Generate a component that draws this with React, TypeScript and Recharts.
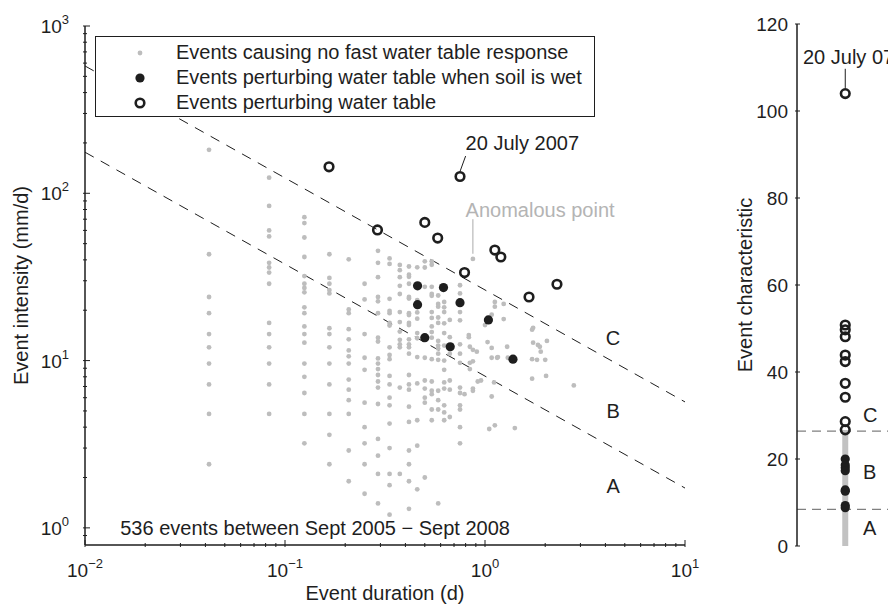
import React from 'react'
import {
  ScatterChart,
  Scatter,
  XAxis,
  YAxis,
  ReferenceLine,
  ReferenceDot,
  Legend,
  Label,
} from 'recharts'

const INK = '#1e1e1e'
const GRAY = '#bdbdbd'
const FONT = "'Liberation Sans', Arial, Helvetica, sans-serif"

// hourly duration columns (d) and the intensities read in each column (mm/d)
const colDuration = [
  0.0417, 0.0833, 0.125, 0.1667, 0.2083, 0.25, 0.2917, 0.3333, 0.375,
  0.4167, 0.4583, 0.5, 0.5417, 0.5833, 0.625, 0.6667, 0.75,
]
const colIntensity = [
  [2.4, 4.8, 7.2, 9.6, 12, 14.4, 19.2, 24, 43.2, 182],
  [4.8, 7.2, 9.6, 12, 14.4, 16.8, 28.8, 33.6, 36, 38.4, 55.2, 60, 84, 124],
  [3.2, 4.8, 6.4, 8, 9.6, 12.8, 14.4, 16, 19.2, 20.8, 25.6, 27.2, 28.8, 32, 41.6, 54.4, 66.4, 72],
  [2.4, 3.6, 4.8, 7.2, 9.6, 12, 14.4, 15.6, 25.2, 26.4, 28.8, 31.2, 43.2],
  [1.9, 2.9, 4.8, 5.8, 6.7, 7.7, 9.6, 10.6, 11.5, 13.4, 15.4, 19.2, 20.2, 40.3],
  [1.6, 2.4, 3.2, 4, 5.6, 8.8, 10.4, 14.4, 23.2, 28.8],
  [1.4, 2.1, 2.7, 3.4, 5.5, 6.9, 7.5, 8.2, 8.9, 9.6, 10.3, 13, 13.7, 19.2, 22.6, 24, 31.5, 38.4, 45.3],
  [1.2, 1.8, 2.1, 3, 4.2, 5.4, 6, 7.2, 8.1, 10.2, 10.8, 12, 16.2, 16.8, 19.2, 19.8, 23.4, 37.8, 40.8],
  [2.1, 6.9, 12, 12.5, 13.3, 14.9, 17, 19.5, 25, 28, 31.5, 34.7, 37.3],
  [1.3, 1.9, 2.4, 2.9, 4.3, 5.3, 6.7, 7.2, 8.2, 11, 12, 12.5, 13.4, 16.3, 16.8, 18.7, 19.2, 23.5, 24, 28.8, 31.7, 32.6, 36.5],
  [1.7, 3.1, 4.4, 7.3, 10.5, 13.6, 14.6, 17.8, 19.4, 20.9, 23, 36.1],
  [2, 5.6, 6, 6.8, 7.6, 10.4, 27.6, 36, 39.2],
  [4.4, 5.1, 6.3, 6.6, 7.5, 10.2, 13.7, 14.8, 16, 18, 19.5, 24.4, 25, 27.6, 37.4, 39.2],
  [1.4, 5.1, 5.8, 6.6, 10.1, 11, 11.8, 12.3, 13.1, 16.8, 18.1, 21, 21.8, 24.5],
  [4.4, 4.9, 5.4, 6.8, 7.4, 8.8, 10, 12.3, 14.6, 16.7, 19.5, 20.8, 22.4],
  [4.6, 6.7, 7.6, 11, 13.8, 17.5],
  [3.2, 4, 5.1, 5.4, 6.4, 6.9, 9.7, 11, 12.5, 17.4, 19.5, 25.2, 28.2],
]
// longer events, scattered
const looseDuration = [
  0.83, 0.83, 0.84, 0.84, 0.84, 0.87, 0.91, 0.87, 0.87, 0.87, 0.79, 0.92, 0.955, 0.87,
  1.0, 1.08, 1.03, 1.08, 1.12, 1.12, 1.15, 1.11, 1.08, 1.12, 1.05, 1.08, 1.16,
  1.24, 1.24, 1.29, 1.3, 1.41, 1.72, 1.74, 1.74, 1.84, 1.9, 1.88, 1.72, 1.82,
  2.0, 1.72, 2.02, 2.04, 2.78,
]
const looseIntensity = [
  14.2, 13.8, 12.1, 9.7, 8.9, 11.6, 11.3, 6.8, 9.9, 6.6, 6.3, 7.5, 7.6, 40.5,
  16.3, 18.8, 12.9, 10.4, 22.4, 21, 10.4, 7.4, 6.1, 4.1, 3.9, 11.9, 10.5,
  21.8, 17.7, 12.1, 10.4, 3.95, 15.3, 15.7, 12.8, 12.4, 11.3, 12.1, 10.2, 10.1,
  10.1, 7.8, 8.1, 13.1, 7.1,
]

// events perturbing water table when soil is wet
const wetDuration = [0.46, 0.46, 0.5, 0.62, 0.67, 0.75, 1.04, 1.38]
const wetIntensity = [28, 21.6, 13.7, 27.3, 12.1, 22.2, 17.5, 10.2]

// events perturbing water table
const respDuration = [0.166, 0.29, 0.5, 0.58, 0.75, 0.79, 1.12, 1.2, 1.66, 2.29]
const respIntensity = [144, 60.4, 67, 54, 126, 33.6, 45.8, 41.6, 24, 28.6]

// zone boundary lines (end points)
const lineDuration = [0.01, 10]
const lineC = [577, 5.66]
const lineB = [176, 1.73]

// right panel: event characteristic
const charResp = [104, 50.8, 49.7, 48.1, 43.9, 42.4, 37.4, 34.2, 28.6, 26.7]
const charWet = [20, 18.6, 18, 17.3, 12.9, 12.6, 9.3, 8.8]
const charNoneRange = [0.2, 26]
const charThresholds = [26.4, 8.4]

const legendLabels = [
  'Events causing no fast water table response',
  'Events perturbing water table when soil is wet',
  'Events perturbing water table',
]

const xMajor = [0.01, 0.1, 1, 10]
const yMajor = [1, 10, 100, 1000]
const mult = [2, 3, 4, 5, 6, 7, 8, 9]
const xTicks = [...xMajor, ...[0.01, 0.1, 1].flatMap((d) => mult.map((m) => m * d))]
const yTicks = [0.9, ...yMajor, ...[1, 10, 100].flatMap((d) => mult.map((m) => m * d))]
const charTicks = [0, 20, 40, 60, 80, 100, 120]

const isMajor = (v: number) => Math.abs(Math.log10(v) - Math.round(Math.log10(v))) < 1e-6
const expText = (v: number) => {
  const e = Math.round(Math.log10(v))
  return e < 0 ? '\u2212' + -e : String(e)
}

const BottomTick = (p: any) => {
  const v = p.payload.value
  const major = isMajor(v)
  return (
    <g>
      <line x1={p.x} x2={p.x} y1={p.y} y2={p.y - (major ? 7 : 4)} stroke={INK} strokeWidth={1} />
      {major && (
        <text x={p.x} y={p.y + 30} textAnchor="middle" fontSize={19} fill={INK} fontFamily={FONT}>
          10<tspan dy={-9} fontSize={13}>{expText(v)}</tspan>
        </text>
      )}
    </g>
  )
}

const TopTick = (p: any) => {
  const major = isMajor(p.payload.value)
  return <line x1={p.x} x2={p.x} y1={p.y} y2={p.y + (major ? 7 : 4)} stroke={INK} strokeWidth={1} />
}

const LeftTick = (p: any) => {
  const v = p.payload.value
  const major = isMajor(v)
  return (
    <g>
      <line x1={p.x} x2={p.x + (major ? 7 : 4)} y1={p.y} y2={p.y} stroke={INK} strokeWidth={1} />
      {major && (
        <text x={p.x - 14} y={p.y + 7} textAnchor="end" fontSize={19} fill={INK} fontFamily={FONT}>
          10<tspan dy={-9} fontSize={13}>{expText(v)}</tspan>
        </text>
      )}
    </g>
  )
}

const RightTick = (p: any) => {
  const major = isMajor(p.payload.value)
  return <line x1={p.x} x2={p.x - (major ? 7 : 4)} y1={p.y} y2={p.y} stroke={INK} strokeWidth={1} />
}

const LinearLeftTick = (p: any) => (
  <g>
    <line x1={p.x} x2={p.x + 5} y1={p.y} y2={p.y} stroke={INK} strokeWidth={1} />
    <text x={p.x - 7} y={p.y + 7} textAnchor="end" fontSize={19} fill={INK} fontFamily={FONT}>
      {p.payload.value}
    </text>
  </g>
)

const GrayDot = (p: any) => <circle cx={p.cx} cy={p.cy} r={2.4} fill={GRAY} />
const WetDot = (p: any) => <circle cx={p.cx} cy={p.cy} r={4.6} fill={INK} />
const RespDot = (p: any) => (
  <circle cx={p.cx} cy={p.cy} r={4.3} fill="none" stroke={INK} strokeWidth={2.6} />
)
const NoMark = () => <g />

const textMark = (text: string, anchor: string, color = INK, size = 20) => (p: any) => (
  <text x={p.cx} y={p.cy} textAnchor={anchor} fontSize={size} fill={color} fontFamily={FONT}>
    {text}
  </text>
)

const LegendBox = () => (
  <div
    style={{
      position: 'relative',
      width: 500,
      height: 81,
      boxSizing: 'border-box',
      border: `1px solid ${INK}`,
      background: '#fff',
      fontFamily: FONT,
    }}
  >
    {legendLabels.map((label, i) => (
      <div
        key={label}
        style={{
          position: 'absolute',
          left: 0,
          top: 3 + i * 25,
          height: 25,
          lineHeight: '25px',
          fontSize: 20,
          color: INK,
          whiteSpace: 'nowrap',
        }}
      >
        <svg width={20} height={20} style={{ position: 'absolute', left: 34, top: 2.5 }}>
          {i === 0 && <circle cx={10} cy={10} r={2.4} fill={GRAY} />}
          {i === 1 && <circle cx={10} cy={10} r={4.6} fill={INK} />}
          {i === 2 && <circle cx={10} cy={10} r={4.3} fill="none" stroke={INK} strokeWidth={2.6} />}
        </svg>
        <span style={{ position: 'absolute', left: 80 }}>{label}</span>
      </div>
    ))}
  </div>
)

const axisStroke = { stroke: INK, strokeWidth: 1.5 }

const noneData = colDuration
  .flatMap((d, k) => colIntensity[k].map((v) => ({ x: d, y: v })))
  .concat(looseDuration.map((d, k) => ({ x: d, y: looseIntensity[k] })))
const wetData = wetDuration.map((d, k) => ({ x: d, y: wetIntensity[k] }))
const respData = respDuration.map((d, k) => ({ x: d, y: respIntensity[k] }))

const charRespData = charResp.map((v) => ({ x: 1, y: v }))
const charWetData = charWet.map((v) => ({ x: 1, y: v }))
const charNoneData = charNoneRange.map((v) => ({ x: 1, y: v }))

export default function App() {
  return (
    <div
      style={{
        position: 'absolute',
        left: 0,
        top: 0,
        width: 888,
        height: 607,
        overflow: 'hidden',
        background: '#fff',
      }}
    >
      <div style={{ position: 'absolute', left: 0, top: 0 }}>
        <ScatterChart width={888} height={607} margin={{ top: 26, right: 203, bottom: 12, left: 15 }}>
          <XAxis
            dataKey="x"
            type="number"
            scale="log"
            domain={[0.01, 10]}
            allowDataOverflow
            ticks={xTicks}
            interval={0}
            tick={BottomTick}
            tickLine={false}
            tickSize={0}
            height={50}
            axisLine={axisStroke}
          >
            <Label
              content={(p: any) => (
                <text
                  x={p.viewBox.x + p.viewBox.width / 2}
                  y={p.viewBox.y + 55}
                  textAnchor="middle"
                  fontSize={20}
                  fill={INK}
                  fontFamily={FONT}
                >
                  Event duration (d)
                </text>
              )}
            />
          </XAxis>
          <XAxis
            xAxisId="top"
            orientation="top"
            type="number"
            scale="log"
            domain={[0.01, 10]}
            allowDataOverflow
            ticks={xTicks}
            interval={0}
            tick={TopTick}
            tickLine={false}
            tickSize={0}
            height={0}
            axisLine={axisStroke}
          />
          <YAxis
            dataKey="y"
            type="number"
            scale="log"
            domain={[0.79, 1000]}
            allowDataOverflow
            ticks={yTicks}
            interval={0}
            tick={LeftTick}
            tickLine={false}
            tickSize={0}
            width={70}
            axisLine={axisStroke}
          >
            <Label
              content={(p: any) => {
                const cx = p.viewBox.x + 13
                const cy = p.viewBox.y + p.viewBox.height / 2
                return (
                  <text
                    x={cx}
                    y={cy}
                    transform={`rotate(-90, ${cx}, ${cy})`}
                    textAnchor="middle"
                    fontSize={20}
                    fill={INK}
                    fontFamily={FONT}
                  >
                    Event intensity (mm/d)
                  </text>
                )
              }}
            />
          </YAxis>
          <YAxis
            yAxisId="right"
            orientation="right"
            type="number"
            scale="log"
            domain={[0.79, 1000]}
            allowDataOverflow
            ticks={yTicks}
            interval={0}
            tick={RightTick}
            tickLine={false}
            tickSize={0}
            width={0}
            axisLine={axisStroke}
          />

          <ReferenceLine
            segment={[
              { x: lineDuration[0], y: lineC[0] },
              { x: lineDuration[1], y: lineC[1] },
            ]}
            stroke={INK}
            strokeWidth={1}
            strokeDasharray="10 8"
          />
          <ReferenceLine
            segment={[
              { x: lineDuration[0], y: lineB[0] },
              { x: lineDuration[1], y: lineB[1] },
            ]}
            stroke={INK}
            strokeWidth={1}
            strokeDasharray="10 8"
          />
          <ReferenceLine
            segment={[
              { x: 0.8, y: 167 },
              { x: 0.75, y: 135 },
            ]}
            stroke={INK}
            strokeWidth={1}
          />
          <ReferenceLine
            segment={[
              { x: 0.87, y: 70 },
              { x: 0.87, y: 43.5 },
            ]}
            stroke="#aaaaaa"
            strokeWidth={1}
          />

          <Scatter data={noneData} shape={GrayDot} isAnimationActive={false} />
          <Scatter data={wetData} shape={WetDot} isAnimationActive={false} />
          <Scatter data={respData} shape={RespDot} isAnimationActive={false} />

          <ReferenceDot x={0.8} y={182} r={0} shape={textMark('20 July 2007', 'start')} />
          <ReferenceDot x={0.8} y={72} r={0} shape={textMark('Anomalous point', 'start', '#b4b4b4')} />
          <ReferenceDot x={4.37} y={12.4} r={0} shape={textMark('C', 'middle')} />
          <ReferenceDot x={4.37} y={4.55} r={0} shape={textMark('B', 'middle')} />
          <ReferenceDot x={4.37} y={1.62} r={0} shape={textMark('A', 'middle')} />
          <ReferenceDot
            x={0.015}
            y={0.908}
            r={0}
            shape={textMark('536 events between Sept 2005 \u2212 Sept 2008', 'start')}
          />

          <Legend
            content={LegendBox}
            layout="vertical"
            align="center"
            verticalAlign="middle"
            wrapperStyle={{ left: 95, top: 36, width: 500, height: 81 }}
          />
        </ScatterChart>
      </div>

      <div style={{ position: 'absolute', left: 700, top: 0 }}>
        <ScatterChart width={300} height={607} margin={{ top: 24, right: 10, bottom: 61, left: 37 }}>
          <XAxis
            dataKey="x"
            type="number"
            domain={[0, 4]}
            allowDataOverflow
            tick={false}
            tickLine={false}
            height={0}
            axisLine={axisStroke}
          />
          <XAxis
            xAxisId="top"
            orientation="top"
            type="number"
            domain={[0, 4]}
            allowDataOverflow
            tick={false}
            tickLine={false}
            height={0}
            axisLine={axisStroke}
          />
          <YAxis
            dataKey="y"
            type="number"
            domain={[0, 120]}
            allowDataOverflow
            ticks={charTicks}
            interval={0}
            tick={LinearLeftTick}
            tickLine={false}
            tickSize={0}
            width={60}
            axisLine={axisStroke}
          >
            <Label
              content={(p: any) => {
                const cx = p.viewBox.x + 15
                const cy = p.viewBox.y + p.viewBox.height / 2
                return (
                  <text
                    x={cx}
                    y={cy}
                    transform={`rotate(-90, ${cx}, ${cy})`}
                    textAnchor="middle"
                    fontSize={20}
                    fill={INK}
                    fontFamily={FONT}
                  >
                    Event characteristic
                  </text>
                )
              }}
            />
          </YAxis>

          {charThresholds.map((t) => (
            <ReferenceLine key={t} y={t} stroke="#808080" strokeWidth={1.3} strokeDasharray="9 6" />
          ))}
          <ReferenceLine
            segment={[
              { x: 1, y: 109.7 },
              { x: 1, y: 105.3 },
            ]}
            stroke={INK}
            strokeWidth={1}
          />

          <Scatter
            data={charNoneData}
            shape={NoMark}
            line={{ stroke: '#c2c2c2', strokeWidth: 6, strokeLinecap: 'round' }}
            isAnimationActive={false}
          />
          <Scatter data={charWetData} shape={WetDot} isAnimationActive={false} />
          <Scatter data={charRespData} shape={RespDot} isAnimationActive={false} />

          <ReferenceDot x={0.124} y={110.8} r={0} shape={textMark('20 July 07', 'start')} />
          <ReferenceDot x={1.37} y={28.5} r={0} shape={textMark('C', 'start')} />
          <ReferenceDot x={1.37} y={15.4} r={0} shape={textMark('B', 'start')} />
          <ReferenceDot x={1.37} y={2.5} r={0} shape={textMark('A', 'start')} />
        </ScatterChart>
      </div>
    </div>
  )
}
